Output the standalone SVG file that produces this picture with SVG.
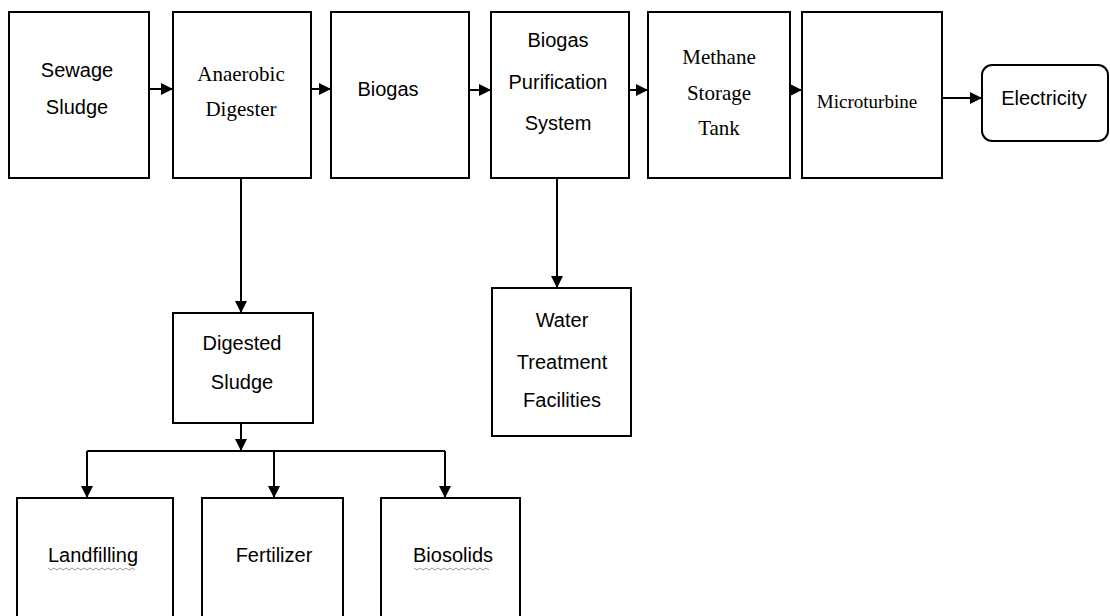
<svg xmlns="http://www.w3.org/2000/svg" width="1110" height="616" viewBox="0 0 1110 616">
<defs>
<marker id="ah" markerUnits="userSpaceOnUse" markerWidth="14" markerHeight="12" refX="12" refY="6" orient="auto">
<path d="M0,0 L12,6 L0,12 Z" fill="#000"/>
</marker>
<style>
.box{fill:#fff;stroke:#000;stroke-width:2}
.sans{font-family:"Liberation Sans",Arial,sans-serif;font-size:20px;fill:#000;text-anchor:middle}
.serif{font-family:"Liberation Serif","Times New Roman",serif;font-size:21px;fill:#000;text-anchor:middle}
.small{font-size:19px}
.con{stroke:#000;stroke-width:2;fill:none}
.wavy{stroke:#999;stroke-width:1;fill:none}
</style>
</defs>
<rect width="1110" height="616" fill="#fff"/>
<g id="connectors">
<line class="con" x1="149" y1="89" x2="173" y2="89" marker-end="url(#ah)"/>
<line class="con" x1="311" y1="89" x2="331" y2="89" marker-end="url(#ah)"/>
<line class="con" x1="469" y1="90" x2="491" y2="90" marker-end="url(#ah)"/>
<line class="con" x1="629" y1="90" x2="648" y2="90" marker-end="url(#ah)"/>
<line class="con" x1="790" y1="90" x2="802" y2="90" marker-end="url(#ah)"/>
<line class="con" x1="942" y1="98" x2="982" y2="98" marker-end="url(#ah)"/>
<line class="con" x1="241" y1="178" x2="241" y2="313" marker-end="url(#ah)"/>
<line class="con" x1="557" y1="178" x2="557" y2="288" marker-end="url(#ah)"/>
<line class="con" x1="241" y1="423" x2="241" y2="451" marker-end="url(#ah)"/>
<polyline class="con" points="87,451 445,451"/>
<line class="con" x1="87" y1="451" x2="87" y2="498" marker-end="url(#ah)"/>
<line class="con" x1="274" y1="451" x2="274" y2="498" marker-end="url(#ah)"/>
<line class="con" x1="445" y1="451" x2="445" y2="498" marker-end="url(#ah)"/>
</g>
<g id="sewage-sludge">
<rect class="box" x="9" y="12" width="140" height="166"/>
<text class="sans" x="77" y="77">Sewage</text>
<text class="sans" x="77" y="114">Sludge</text>
</g>
<g id="anaerobic-digester">
<rect class="box" x="173" y="12" width="138" height="166"/>
<text class="serif" x="241" y="81">Anaerobic</text>
<text class="serif" x="241" y="116">Digester</text>
</g>
<g id="biogas">
<rect class="box" x="331" y="12" width="138" height="166"/>
<text class="sans" x="388" y="96">Biogas</text>
</g>
<g id="biogas-purification">
<rect class="box" x="491" y="12" width="138" height="166"/>
<text class="sans" x="558" y="47">Biogas</text>
<text class="sans" x="558" y="89">Purification</text>
<text class="sans" x="558" y="130">System</text>
</g>
<g id="methane-storage">
<rect class="box" x="648" y="12" width="142" height="166"/>
<text class="serif" x="719" y="64">Methane</text>
<text class="serif" x="719" y="100">Storage</text>
<text class="serif" x="719" y="135">Tank</text>
</g>
<g id="microturbine">
<rect class="box" x="802" y="12" width="140" height="166"/>
<text class="serif small" x="867" y="108">Microturbine</text>
</g>
<g id="electricity">
<rect class="box" x="982" y="65" width="126" height="76" rx="10" ry="10"/>
<text class="sans" x="1044" y="105">Electricity</text>
</g>
<g id="digested-sludge">
<rect class="box" x="173" y="313" width="140" height="110"/>
<text class="sans" x="242" y="350">Digested</text>
<text class="sans" x="242" y="389">Sludge</text>
</g>
<g id="water-treatment">
<rect class="box" x="492" y="288" width="139" height="148"/>
<text class="sans" x="562" y="327">Water</text>
<text class="sans" x="562" y="369">Treatment</text>
<text class="sans" x="562" y="407">Facilities</text>
</g>
<g id="landfilling">
<rect class="box" x="17" y="498" width="156" height="140"/>
<text class="sans" x="93" y="562">Landfilling</text>
<path class="wavy" d="M48,568 l3,2 l3,-2 l3,2 l3,-2 l3,2 l3,-2 l3,2 l3,-2 l3,2 l3,-2 l3,2 l3,-2 l3,2 l3,-2 l3,2 l3,-2 l3,2 l3,-2 l3,2 l3,-2 l3,2 l3,-2 l3,2 l3,-2 l3,2 l3,-2 l3,2 l3,-2 l3,2"/>
</g>
<g id="fertilizer">
<rect class="box" x="202" y="498" width="141" height="140"/>
<text class="sans" x="274" y="562">Fertilizer</text>
</g>
<g id="biosolids">
<rect class="box" x="381" y="498" width="139" height="140"/>
<text class="sans" x="453" y="562">Biosolids</text>
<path class="wavy" d="M414,568 l3,2 l3,-2 l3,2 l3,-2 l3,2 l3,-2 l3,2 l3,-2 l3,2 l3,-2 l3,2 l3,-2 l3,2 l3,-2 l3,2 l3,-2 l3,2 l3,-2 l3,2 l3,-2 l3,2 l3,-2 l3,2 l3,-2 l3,2"/>
</g>
</svg>
